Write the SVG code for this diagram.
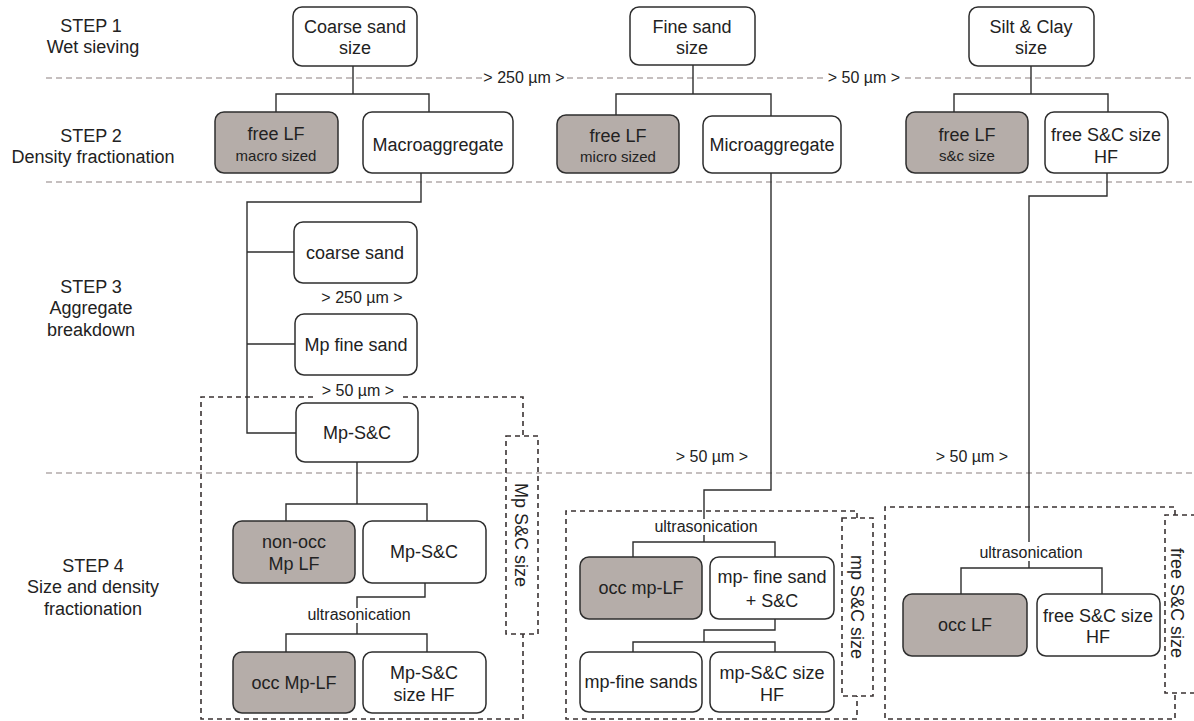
<svg xmlns="http://www.w3.org/2000/svg" width="1194" height="721" viewBox="0 0 1194 721">
<style>
text{font-family:"Liberation Sans",Arial,sans-serif;fill:#222;text-anchor:middle}
.t{font-size:18px}
.s{font-size:16px}
.m{font-size:15px}
.box{fill:#fff;stroke:#2e2e2e;stroke-width:1.5}
.grey{fill:#b5ada9;stroke:#2e2e2e;stroke-width:1.5}
.sep{stroke:#b3abab;stroke-width:1.3;stroke-dasharray:6 4;fill:none}
.dbox{stroke:#3a3232;stroke-width:1.6;stroke-dasharray:5 4;fill:none}
.con{stroke:#2e2e2e;stroke-width:1.4;fill:none}
</style>
<rect width="1194" height="721" fill="#fff"/>
<g id="separators">
<path class="sep" d="M46 78H482M567 78H823M905 78H1194M46 182H1194M46 473H1194"/>
</g>
<g id="steps">
<text class="t" x="91" y="32">STEP 1</text>
<text class="t" x="93" y="53">Wet sieving</text>
<text class="t" x="91" y="142">STEP 2</text>
<text class="t" x="93" y="163">Density fractionation</text>
<text class="t" x="91" y="293">STEP 3</text>
<text class="t" x="91" y="314">Aggregate</text>
<text class="t" x="91" y="336">breakdown</text>
<text class="t" x="93" y="572">STEP 4</text>
<text class="t" x="93" y="593">Size and density</text>
<text class="t" x="93" y="615">fractionation</text>
</g>
<g id="size-labels">
<text class="s" x="524" y="83">&gt; 250 µm &gt;</text>
<text class="s" x="864" y="83">&gt; 50 µm &gt;</text>
<text class="s" x="362" y="303">&gt; 250 µm &gt;</text>
<text class="s" x="358" y="396">&gt; 50 µm &gt;</text>
<text class="s" x="712" y="462">&gt; 50 µm &gt;</text>
<text class="s" x="972" y="462">&gt; 50 µm &gt;</text>
</g>
<g id="dashed-groups">
<path class="dbox" d="M313 397H201V719H523V634M403 397H523V436"/>
<rect class="dbox" x="506" y="436" width="32" height="198"/>
<text class="t" transform="translate(521 535) rotate(90)" y="6">Mp S&amp;C size</text>
<path class="dbox" d="M857 518V511H566V719H857V696"/>
<rect class="dbox" x="842" y="518" width="31" height="178"/>
<text class="t" transform="translate(857 607) rotate(90)" y="6">mp S&amp;C size</text>
<path class="dbox" d="M1175 515V507H885V719H1175V693"/>
<path class="dbox" d="M1196 515H1165V693H1196"/>
<text class="t" transform="translate(1177 603) rotate(90)" y="6">free S&amp;C size</text>
</g>
<g id="connectors">
<path class="con" d="M353 66V94M276 112V94H429V112"/>
<path class="con" d="M693 65V94M616 115V94H771V116"/>
<path class="con" d="M1031 66V94M954 112V94H1108V112"/>
<path class="con" d="M421 173V202H247V433H296M247 252H294M247 344H295"/>
<path class="con" d="M357 462V504M286 521V504H427V521"/>
<path class="con" d="M425 583V597H357V608M357 623V634M286 652V634H427V652"/>
<path class="con" d="M771 173V490H704V519M704 535V542M633 557V542H775V557"/>
<path class="con" d="M775 619V630H704V642M633 652V642H775V652"/>
<path class="con" d="M1107 173V196H1029V542M1029 561V568M961 594V568H1102V594"/>
<text class="s" x="359" y="620">ultrasonication</text>
<text class="s" x="706" y="532">ultrasonication</text>
<text class="s" x="1031" y="558">ultrasonication</text>
</g>
<g id="n-coarse-sand-size"><rect class="box" x="293" y="7" width="124" height="59" rx="9"/><text class="t" x="355" y="33">Coarse sand</text><text class="t" x="355" y="54">size</text></g>
<g id="n-fine-sand-size"><rect class="box" x="630" y="7" width="125" height="58" rx="9"/><text class="t" x="692" y="33">Fine sand</text><text class="t" x="692" y="54">size</text></g>
<g id="n-silt-clay-size"><rect class="box" x="969" y="7" width="125" height="59" rx="9"/><text class="t" x="1031" y="33">Silt &amp; Clay</text><text class="t" x="1031" y="54">size</text></g>
<g id="n-free-lf-macro"><rect class="grey" x="215" y="112" width="123" height="61" rx="9"/><text class="t" x="276" y="140">free LF</text><text class="m" x="276" y="161">macro sized</text></g>
<g id="n-macroaggregate"><rect class="box" x="363" y="112" width="150" height="61" rx="9"/><text class="t" x="438" y="151">Macroaggregate</text></g>
<g id="n-free-lf-micro"><rect class="grey" x="557" y="115" width="122" height="58" rx="9"/><text class="t" x="618" y="142">free LF</text><text class="m" x="618" y="162">micro sized</text></g>
<g id="n-microaggregate"><rect class="box" x="703" y="116" width="138" height="57" rx="9"/><text class="t" x="772" y="151">Microaggregate</text></g>
<g id="n-free-lf-sc"><rect class="grey" x="906" y="112" width="122" height="61" rx="9"/><text class="t" x="967" y="141">free LF</text><text class="m" x="967" y="161">s&amp;c size</text></g>
<g id="n-free-sc-hf"><rect class="box" x="1045" y="112" width="123" height="61" rx="9"/><text class="t" x="1106" y="141">free S&amp;C size</text><text class="t" x="1106" y="163">HF</text></g>
<g id="n-coarse-sand"><rect class="box" x="294" y="222" width="123" height="61" rx="9"/><text class="t" x="355" y="259">coarse sand</text></g>
<g id="n-mp-fine-sand"><rect class="box" x="295" y="314" width="122" height="61" rx="9"/><text class="t" x="356" y="351">Mp fine sand</text></g>
<g id="n-mp-sc"><rect class="box" x="296" y="403" width="122" height="59" rx="9"/><text class="t" x="357" y="439">Mp-S&amp;C</text></g>
<g id="n-non-occ-mp-lf"><rect class="grey" x="233" y="521" width="122" height="62" rx="9"/><text class="t" x="294" y="548">non-occ</text><text class="t" x="294" y="570">Mp LF</text></g>
<g id="n-mp-sc-2"><rect class="box" x="363" y="521" width="123" height="62" rx="9"/><text class="t" x="424" y="558">Mp-S&amp;C</text></g>
<g id="n-occ-mp-lf"><rect class="grey" x="233" y="652" width="122" height="61" rx="9"/><text class="t" x="294" y="689">occ Mp-LF</text></g>
<g id="n-mp-sc-size-hf"><rect class="box" x="363" y="652" width="123" height="61" rx="9"/><text class="t" x="424" y="679">Mp-S&amp;C</text><text class="t" x="424" y="701">size HF</text></g>
<g id="n-occ-mp-lf-2"><rect class="grey" x="580" y="557" width="122" height="62" rx="9"/><text class="t" x="641" y="594">occ mp-LF</text></g>
<g id="n-mp-fine-sand-sc"><rect class="box" x="710" y="557" width="124" height="62" rx="9"/><text class="t" x="772" y="583">mp- fine sand</text><text class="t" x="772" y="607">+ S&amp;C</text></g>
<g id="n-mp-fine-sands"><rect class="box" x="580" y="652" width="122" height="60" rx="9"/><text class="t" x="641" y="688">mp-fine sands</text></g>
<g id="n-mp-sc-size-hf-2"><rect class="box" x="710" y="652" width="124" height="60" rx="9"/><text class="t" x="772" y="679">mp-S&amp;C size</text><text class="t" x="772" y="701">HF</text></g>
<g id="n-occ-lf"><rect class="grey" x="903" y="594" width="124" height="62" rx="9"/><text class="t" x="965" y="631">occ LF</text></g>
<g id="n-free-sc-hf-2"><rect class="box" x="1037" y="594" width="123" height="62" rx="9"/><text class="t" x="1098" y="622">free S&amp;C size</text><text class="t" x="1098" y="643">HF</text></g>
</svg>
